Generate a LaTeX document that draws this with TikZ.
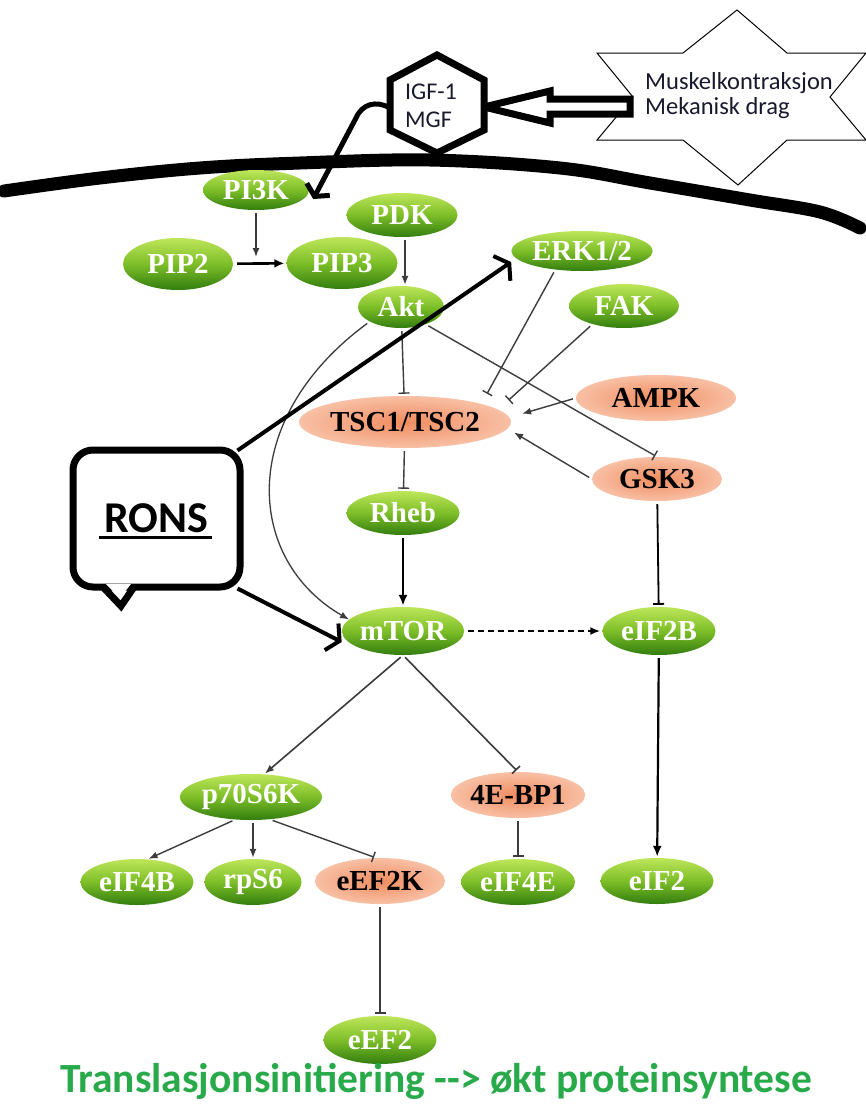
\documentclass[tikz,border=0pt]{standalone}
\usepackage{fontspec}
\setmainfont{Liberation Serif}
\newfontfamily\calfont{Carlito}
\usetikzlibrary{shapes.geometric,arrows.meta,calc}
\definecolor{gTop}{RGB}{190,230,90}
\definecolor{gMid}{RGB}{125,190,40}
\definecolor{gBot}{RGB}{50,125,15}
\definecolor{oIn}{RGB}{240,140,95}
\definecolor{oOut}{RGB}{248,192,165}
\definecolor{lineC}{RGB}{60,60,60}
\definecolor{titleC}{RGB}{40,170,75}
\definecolor{navy}{RGB}{25,25,45}
\begin{document}
\begin{tikzpicture}[x=1pt,y=-1pt,
  gn/.style={ellipse,inner sep=0pt,top color=gTop,bottom color=gBot,middle color=gMid,text=white,font=\fontsize{29}{30}\selectfont\bfseries},
  on/.style={ellipse,inner sep=0pt,inner color=oIn,outer color=oOut,text=black,font=\fontsize{29}{30}\selectfont\bfseries},
  sz/.style 2 args={minimum width=#1pt,minimum height=#2pt},
  act/.style={draw=lineC,line width=1.4pt,-{Latex[length=9pt,width=7pt]},shorten <=3pt,shorten >=1pt},
  inh/.style={draw=lineC,line width=1.4pt,-{Bar[width=11pt]},shorten <=3pt,shorten >=2pt},
  thk/.style={draw=black,line width=2.2pt,-{Latex[length=11pt,width=9pt]},shorten <=3pt,shorten >=1pt},
  barbarrow/.style={draw=black,line width=4pt,-{Straight Barb[length=9pt,width=30pt]}},
]
\useasboundingbox (0,0) rectangle (866,1106);
\fill[white] (0,0) rectangle (866,1106);

% star
\draw[line width=1pt,fill=white] (737,10) -- (787,53) -- (866,53) -- (830,97) -- (866,140) -- (787,140) -- (738,185) -- (683,140) -- (597,140) -- (633,97) -- (597,53) -- (683,53) -- cycle;
\node[font=\calfont\fontsize{24.5}{25}\selectfont,align=left,anchor=west,text=navy,inner sep=0pt] (musk) at (645,96) {Muskelkontraksjon\\Mekanisk drag};

% membrane
\draw[line width=13pt,line cap=round] plot[smooth,tension=0.6] coordinates {(4,191) (100,178) (200,168) (300,163) (430,160) (560,168) (650,183) (750,200) (820,212) (860,228)};

% hollow arrow
\draw[line width=7pt,fill=white,line join=miter] (484,107) -- (550,91) -- (550,99) -- (630,99) -- (630,114) -- (550,114) -- (550,123) -- cycle;

% hexagon
\draw[line width=7pt,fill=white] (437,55) -- (484,80) -- (484,130) -- (437,153) -- (390,130) -- (390,80) -- cycle;
\coordinate (hexL) at (390,108);
\node[font=\calfont\fontsize{24}{28}\selectfont,align=left,inner sep=0pt,text=navy] (igf) at (431,106) {IGF-1\\MGF};

% nodes
\node[gn,sz={106}{40}] (pi3k) at (256,190) {PI3K};
\node[gn,sz={111}{44}] (pdk) at (402,215) {PDK};
\node[gn,sz={110}{52}] (pip2) at (178,264) {PIP2};
\node[gn,sz={111}{52}] (pip3) at (342,263) {PIP3};
\node[gn,sz={86}{42}] (akt) at (401,307) {Akt};
\node[gn,sz={124}{40}] (erk) at (582,251) {ERK1/2};
\node[gn,sz={110}{44}] (fak) at (624,306) {FAK};
\node[on,sz={160}{46}] (ampk) at (656,398) {AMPK};
\node[on,sz={184}{52}] (tsc) at (405,422) {TSC1/TSC2};
\node[on,sz={130}{44}] (gsk3) at (657,479) {GSK3};
\node[gn,sz={113}{44}] (rheb) at (403,513) {Rheb};
\node[gn,sz={116}{48}] (mtor) at (403,631) {mTOR};
\node[gn,sz={113}{48}] (eif2b) at (659,631) {eIF2B};
\node[gn,sz={142}{46}] (p70) at (251,797) {p70S6K};
\node[on,sz={130}{46}] (ebp) at (518,795) {4E-BP1};
\node[gn,sz={113}{46}] (eif4b) at (137,882) {eIF4B};
\node[gn,sz={97}{46}] (rps6) at (253,882) {rpS6};
\node[on,sz={130}{46}] (eef2k) at (380,881) {eEF2K};
\node[gn,sz={114}{46}] (eif4e) at (518,882) {eIF4E};
\node[gn,sz={113}{46}] (eif2) at (657,881) {eIF2};
\node[gn,sz={113}{48}] (eef2) at (380,1040) {eEF2};

% upper pathway
\draw[act] (pi3k.south) -- ($(pi3k.south |- pip2.center)+(0,-6)$);
\draw[draw=black,line width=2.6pt,-{Latex[length=10pt,width=9pt]},shorten <=4pt,shorten >=2pt] (pip2) -- (pip3);
\draw[act] (pdk.south -| 405,0) -- (akt.north -| 405,0);
\draw[inh] (akt) -- (tsc);
\draw[inh] (akt.-35) -- (gsk3.north);
\draw[draw=lineC,line width=1.3pt,-{Latex[length=9pt,width=7pt]},shorten <=3pt] (akt.205) .. controls (236,420) and (246,560) .. (mtor.168);
\draw[inh] (erk.215) -- ($(tsc.north east)+(6,-8)$);
\draw[inh] (fak.210) -- ($(tsc.north east)+(27,-2)$);
\draw[act] (ampk.west) -- ($(tsc.east)+(10,-8)$);
\draw[act] (gsk3.west) -- ($(tsc.east)+(2,10)$);
\draw[inh] (tsc) -- (rheb);
\draw[thk] (rheb) -- (mtor);
\draw[draw=black,line width=2pt,dash pattern=on 6pt off 4pt,-{Latex[length=10pt,width=8pt]},shorten <=4pt,shorten >=2pt] (mtor) -- (eif2b);
\draw[inh,draw=black,line width=1.8pt] (gsk3) -- (eif2b);
\draw[thk] (eif2b) -- (eif2);

% lower pathway
\draw[act,line width=1.6pt] (mtor.south) -- (p70.60);
\draw[inh,line width=1.6pt] (mtor.south) -- (ebp.north);
\draw[act] (p70.235) -- (eif4b.65);
\draw[act] (rps6 |- p70.south) -- (rps6.north);
\draw[inh] (p70.-50) -- (eef2k.100);
\draw[inh] (ebp) -- (eif4e);
\draw[inh] (eef2k) -- (eef2);

% IGF arrow
\draw[line width=5pt,line join=round,-{Straight Barb[length=8pt,width=26pt]}] (hexL) .. controls (376,100) and (362,104) .. (356,118) -- ($(pi3k.east)+(4,9)$);

% RONS callout
\node[draw,line width=7pt,rounded corners=20pt,minimum width=167pt,minimum height=137pt,inner sep=0pt,font=\calfont\bfseries\fontsize{44}{44}\selectfont] (rons) at (156.5,518.5) {RONS};
\fill[white] (106,584) -- (131,584) -- (120,598) -- cycle;
\draw[line width=7pt,line join=miter] (103,587) -- (121,606) -- (134,587);
\draw[line width=3pt] ($(rons.center)+(-58,19)$) -- ($(rons.center)+(55,19)$);
\draw[barbarrow] ($(rons.north east)+(-6,4)$) -- ($(erk.west)+(0,11)$);
\draw[barbarrow] ($(rons.south east)+(-6,-2)$) -- ($(mtor.west)+(0,11)$);

% title
\node[font=\calfont\bfseries\fontsize{41.5}{44}\selectfont,text=titleC,inner sep=0pt] (title) at (436,1081) {Translasjonsinitiering -\kern0pt-\kern0pt> økt proteinsyntese};
\end{tikzpicture}
\end{document}
